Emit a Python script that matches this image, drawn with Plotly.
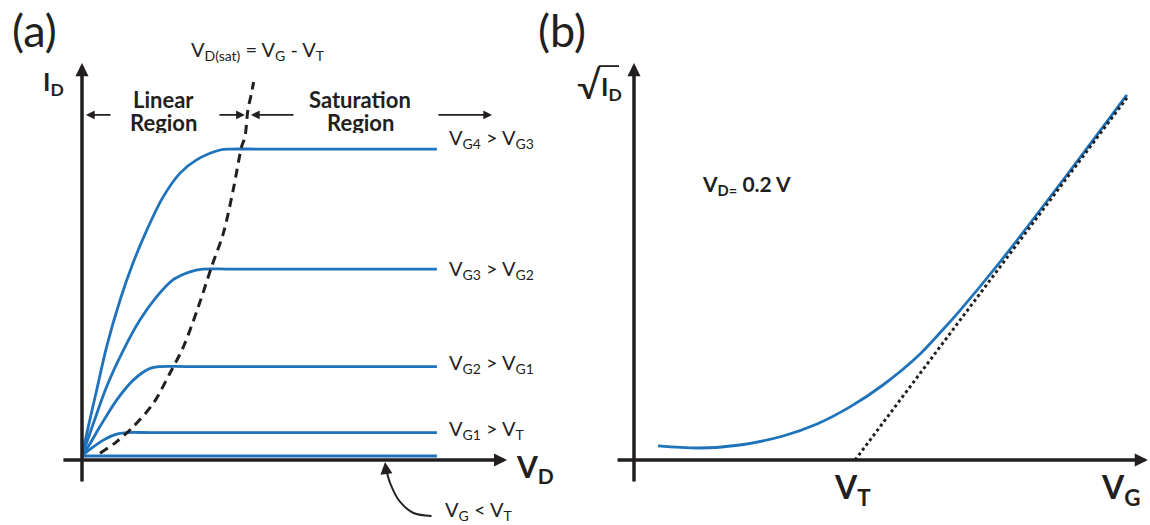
import plotly.graph_objects as go

# ---------------- data ----------------
# Panel (a): output characteristics, I_D vs V_D (arbitrary units)
vg4_vd = [0, 0.21, 0.49, 0.82, 1.27, 1.70, 2.16, 2.70, 3.27, 3.82, 4.60, 4.93, 6.0, 11.83]
vg4_id = [0, 0.98, 2.20, 3.64, 5.20, 6.43, 7.53, 8.63, 9.43, 9.87, 10.20, 10.23, 10.23, 10.23]

vg3_vd = [0, 0.38, 0.82, 1.38, 1.93, 2.49, 3.03, 3.60, 4.03, 5.0, 11.83]
vg3_id = [0, 1.09, 2.31, 3.53, 4.53, 5.31, 5.87, 6.14, 6.23, 6.23, 6.23]

vg2_vd = [0, 0.27, 0.60, 1.16, 1.71, 2.27, 2.60, 3.5, 11.83]
vg2_id = [0, 0.42, 0.98, 1.87, 2.53, 2.92, 2.98, 2.98, 2.98]

vg1_vd = [0, 0.32, 0.71, 1.16, 1.53, 2.3, 11.83]
vg1_id = [0, 0.26, 0.53, 0.73, 0.78, 0.78, 0.78]

off_vd = [0, 11.83]
off_id = [0, 0]

vdsat_vd = [0.60, 1.16, 1.71, 2.38, 2.93, 3.38, 3.88, 4.32, 4.71, 5.04, 5.32, 5.43, 5.53, 5.66, 5.72]
vdsat_id = [0.09, 0.48, 0.98, 1.76, 2.76, 3.64, 4.98, 6.31, 7.42, 8.87, 10.31, 10.63, 11.53, 12.14, 12.47]

curve_labels = ["V<sub>G4</sub> > V<sub>G3</sub>", "V<sub>G3</sub> > V<sub>G2</sub>",
                "V<sub>G2</sub> > V<sub>G1</sub>", "V<sub>G1</sub> > V<sub>T</sub>"]
label_y = [10.6, 6.23, 3.07, 0.87]

# Panel (b): sqrt(I_D) vs V_G
vg_b = [0.80, 2.20, 3.53, 4.97, 6.10, 7.20, 8.30, 9.43, 10.30, 10.87, 12.20, 14.43, 16.43]
sqrt_id_b = [0.47, 0.40, 0.50, 0.80, 1.20, 1.77, 2.50, 3.43, 4.35, 4.99, 6.60, 9.50, 12.17]
extrap_vg = [7.37, 16.43]
extrap_sqrt_id = [0.0, 12.07]

# ---------------- styling ----------------
BLUE = "#1f73bb"
INK = "#231f20"
FONT = "Lato"

fig = go.Figure()

def line(x, y, color=BLUE, width=2.8, dash=None, xa="x", ya="y", shape="spline", smoothing=0.9):
    fig.add_trace(go.Scatter(x=x, y=y, mode="lines", xaxis=xa, yaxis=ya,
                             line=dict(color=color, width=width, dash=dash, shape=shape,
                                       smoothing=smoothing if shape == "spline" else None),
                             hoverinfo="skip", showlegend=False))

for xs, ys in [(vg4_vd, vg4_id), (vg3_vd, vg3_id), (vg2_vd, vg2_id), (vg1_vd, vg1_id)]:
    line(xs, ys)
line(off_vd, off_id, shape="linear")
line(vdsat_vd, vdsat_id, color=INK, width=3, dash="9px,6px")

line(vg_b, sqrt_id_b, xa="x2", ya="y2", smoothing=1.0)
line(extrap_vg, extrap_sqrt_id, color=INK, width=3, dash="3px,3px", xa="x2", ya="y2", shape="linear")

# curved pointer for V_G < V_T
line([11.65, 11.05, 10.58, 10.27, 10.13], [-2.0, -1.9, -1.5, -0.9, -0.4], color=INK, width=2)

ann = []

def arrow(x, y, ax, ay, xr="x", yr="y", w=3.5, size=0.75):
    ann.append(dict(x=x, y=y, ax=ax, ay=ay, xref=xr, yref=yr, axref=xr, ayref=yr,
                    text="", showarrow=True, arrowhead=2, arrowsize=size, arrowwidth=w,
                    arrowcolor=INK, standoff=0, startstandoff=0))

def text(x, y, s, size=20, xr="x", yr="y", xanchor="center", bold=False, yanchor="middle", height=None):
    if bold:
        s = "<b>" + s + "</b>"
    a = dict(x=x, y=y, xref=xr, yref=yr, text=s, showarrow=False,
             xanchor=xanchor, yanchor=yanchor,
             font=dict(family=FONT, size=size, color=INK))
    if height is not None:
        a["height"] = height
    ann.append(a)

# axes for (a)
arrow(0, 13.1, 0, -0.9)
arrow(14.17, -0.133, -0.67, -0.133)
# axes for (b)
arrow(0, 13.23, 0, -0.77, "x2", "y2")
arrow(17.13, 0, -0.6, 0, "x2", "y2")

# region arrows
arrow(0.13, 11.37, 1.0, 11.37, w=1.6, size=1.1)
arrow(5.43, 11.37, 4.53, 11.37, w=1.6, size=1.1)
arrow(5.63, 11.37, 7.1, 11.37, w=1.6, size=1.1)
arrow(13.67, 11.37, 11.83, 11.37, w=1.6, size=1.1)
# pointer head
arrow(10.1, -0.2, 10.13, -0.45, w=2, size=1.2)

# texts (a)
for s, yy in zip(curve_labels, label_y):
    text(12.17, yy, s, size=20, xanchor="left")
text(12.03, -1.8, "V<sub>G</sub> &lt; V<sub>T</sub>", size=20, xanchor="left")
text(5.87, 13.53, "V<sub>D(sat)</sub> = V<sub>G</sub> - V<sub>T</sub>", size=20)
text(2.7, 11.87, "Linear", size=22, bold=True, height=21)
text(2.7, 11.13, "Region", size=22, bold=True, height=21)
text(9.27, 11.87, "Saturation", size=22, bold=True, height=21)
text(9.27, 11.13, "Region", size=22, bold=True, height=21)
text(-0.53, 12.43, "I<sub>D</sub>", size=25, bold=True, xanchor="right")
text(14.4, -0.4, "V<sub>D</sub>", size=30, bold=True, xanchor="left")

# texts (b)
text(-1.5, 12.55, "√", size=38, xr="x2", yr="y2")
text(-0.75, 12.4, "I<sub>D</sub>", size=25, bold=True, xr="x2", yr="y2")
text(2.2, 9.18, "V<sub>D=</sub> 0.2 V", size=21, bold=True, xr="x2", yr="y2", xanchor="left")
text(7.27, -0.97, "V<sub>T</sub>", size=32, bold=True, xr="x2", yr="y2")
text(16.23, -0.97, "V<sub>G</sub>", size=32, bold=True, xr="x2", yr="y2")

# panel labels
text(34 / 1150, 1 - 30 / 525, "(a)", size=45, xr="paper", yr="paper")
text(562 / 1150, 1 - 30 / 525, "(b)", size=45, xr="paper", yr="paper")

fig.update_layout(
    width=1150, height=525,
    margin=dict(l=0, r=0, t=0, b=0),
    paper_bgcolor="white", plot_bgcolor="rgba(0,0,0,0)",
    showlegend=False,
    annotations=ann,
    shapes=[dict(type="line", xref="x2", yref="y2", x0=-1.18, x1=-0.5, y0=13.13, y1=13.13,
                 line=dict(color=INK, width=1.8))],
    xaxis=dict(domain=[0, 0.5], range=[-82 / 30, (575 - 82) / 30], visible=False, fixedrange=True),
    yaxis=dict(domain=[0, 1], range=[(456 - 525) / 30, 456 / 30], visible=False, fixedrange=True),
    xaxis2=dict(domain=[0.5, 1], range=[(575 - 634) / 30, (1150 - 634) / 30], visible=False,
                anchor="y2", fixedrange=True),
    yaxis2=dict(domain=[0, 1], range=[(460 - 525) / 30, 460 / 30], visible=False,
                anchor="x2", fixedrange=True),
)

fig.write_html("out.html", post_script="document.body.style.margin='0';",
               config={"displayModeBar": False})
